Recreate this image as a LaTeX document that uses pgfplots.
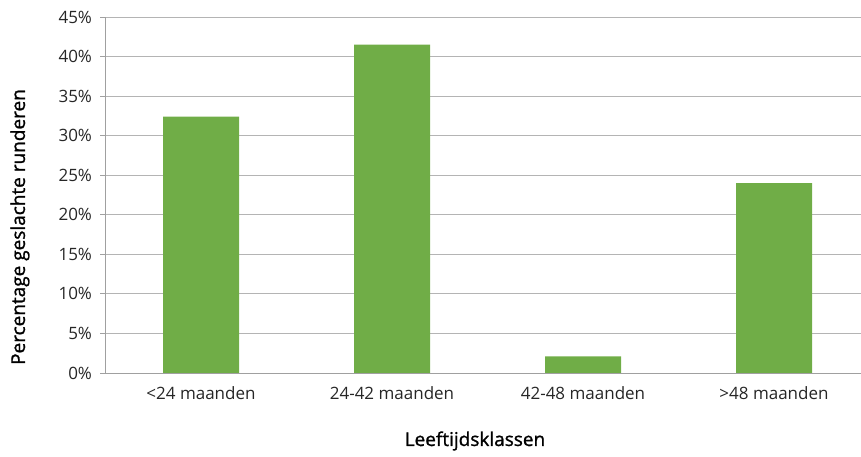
\documentclass[border=0pt]{standalone}
\usepackage{pgfplots}
\pgfplotsset{compat=1.18}
\usepackage{fontspec}
\setmainfont{Open Sans}
\definecolor{bargreen}{HTML}{70AD47}
\definecolor{gridgray}{HTML}{B4B4B4}
\definecolor{axisgray}{HTML}{A0A0A0}
\definecolor{txt}{HTML}{262626}
\begin{document}
\begin{tikzpicture}[x=1pt,y=1pt]
\path[use as bounding box] (0,0) rectangle (861,457);
\begin{axis}[
  at={(105.5pt,84pt)}, anchor=south west,
  scale only axis, width=764pt, height=356pt,
  xmin=-0.5, xmax=3.5, ymin=0, ymax=0.45,
  axis x line*=bottom, axis y line*=left,
  axis line style={axisgray, line width=0.9pt},
  ytick={0,0.05,0.1,0.15,0.2,0.25,0.3,0.35,0.4,0.45},
  yticklabels={0\%,5\%,10\%,15\%,20\%,25\%,30\%,35\%,40\%,45\%},
  ymajorgrids, grid style={gridgray, line width=0.9pt},
  xtick={0,1,2,3},
  xticklabels={<24 maanden,24-42 maanden,42-48 maanden,>48 maanden},
  extra x ticks={-0.5,0.5,1.5,2.5},
  extra x tick labels={},
  extra x tick style={major tick length=5pt, tick style={axisgray, line width=0.9pt}, grid=none},
  major tick length=5pt,
  x tick style={draw=none},
  y tick style={axisgray, line width=0.9pt},
  tick align=outside,
  xtick pos=bottom, ytick pos=left,
  tick label style={font=\fontsize{17}{19}\selectfont, text=txt},
  yticklabel style={xshift=-5pt},
  xticklabel style={yshift=-5pt},
  /pgf/number format/assume math mode=true,
]
\addplot[ybar, bar width=76pt, fill=bargreen, draw=none] coordinates {
  (0,0.324) (1,0.415) (2,0.021) (3,0.240)
};
\end{axis}
\node[rotate=90, text=black, font=\fontsize{19}{21}\selectfont\addfontfeatures{FakeBold=1.2}] at (20,230) {Percentage geslachte runderen};
\node[text=black, font=\fontsize{19}{21}\selectfont\addfontfeatures{FakeBold=1.2}] at (475,16) {Leeftijdsklassen};
\end{tikzpicture}
\end{document}
